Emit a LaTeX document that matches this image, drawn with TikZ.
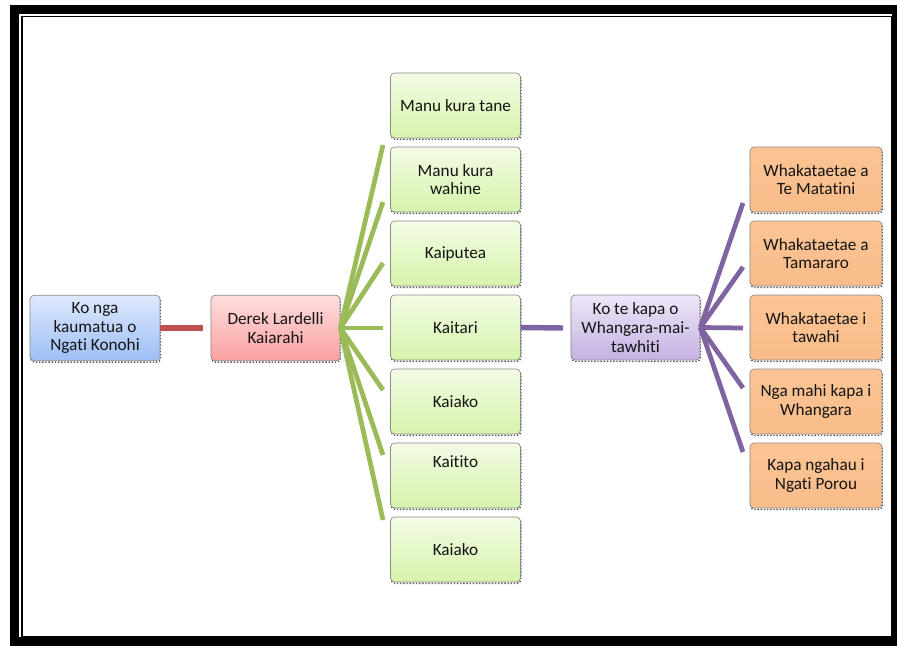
\documentclass[tikz,border=0pt]{standalone}
\usepackage{fontspec}
\setmainfont{Carlito}[Ligatures={NoCommon,NoContextual}]
\definecolor{redline}{RGB}{192,80,77}
\definecolor{greenline}{RGB}{155,187,89}
\definecolor{purpline}{RGB}{128,100,162}
\definecolor{txt}{RGB}{20,20,20}
\begin{document}
\begin{tikzpicture}[x=0.02cm,y=-0.02cm,
  box/.style={rounded corners=2.3pt, draw=black!45, line width=0.4pt,
    align=center, text=txt, inner sep=1pt,
    font=\fontsize{9.8}{10.6}\selectfont,
    preaction={draw=black!65, densely dotted, line width=0.8pt,
      transform canvas={shift={(0.3pt,-0.8pt)}}}},
  bluebox/.style={box, top color={rgb,255:red,222;green,233;blue,253}, bottom color={rgb,255:red,158;green,190;blue,245},
    minimum width=2.6cm, minimum height=1.31cm},
  pinkbox/.style={box, top color={rgb,255:red,255;green,222;blue,222}, bottom color={rgb,255:red,250;green,160;blue,160},
    minimum width=2.58cm, minimum height=1.31cm},
  greenbox/.style={box, top color={rgb,255:red,243;green,251;blue,230}, bottom color={rgb,255:red,214;green,244;blue,170},
    minimum width=2.6cm, minimum height=1.3cm},
  purpbox/.style={box, top color={rgb,255:red,238;green,230;blue,248}, bottom color={rgb,255:red,196;green,178;blue,226},
    minimum width=2.58cm, minimum height=1.3cm},
  orangebox/.style={box, top color={rgb,255:red,251;green,196;blue,148}, bottom color={rgb,255:red,249;green,188;blue,138},
    minimum width=2.64cm, minimum height=1.3cm},
  conn/.style={line width=2.7pt},
  hconn/.style={line width=3.1pt},
]
\useasboundingbox (0,0) rectangle (897,646);
% frame
\fill[black] (10,5) rectangle (897,646);
\fill[white] (19,14) rectangle (892,637);
\draw[line width=1.1pt] (21.7,16.5) rectangle (892,637);

% nodes
\node[bluebox] (kau) at (95,328) {Ko nga\\kaumatua o\\Ngati Konohi};
\node[pinkbox] (derek) at (275.5,328) {Derek Lardelli\\Kaiarahi};

\node[greenbox] (g1) at (455.5,105.5) {Manu kura tane};
\node[greenbox] (g2) at (455.5,179.5) {Manu kura\\wahine};
\node[greenbox] (g3) at (455.5,253.5) {Kaiputea};
\node[greenbox] (g4) at (455.5,327.5) {Kaitari};
\node[greenbox] (g5) at (455.5,401.5) {Kaiako};
\node[greenbox] (g6) at (455.5,475.5) {Kaitito\\[5pt]\mbox{}};
\node[greenbox] (g7) at (455.5,549.5) {Kaiako};

\node[purpbox] (kapa) at (635.5,327.5) {Ko te kapa o\\Whangara-mai-\\tawhiti};

\node[orangebox] (o1) at (816,179.5) {Whakataetae a\\Te Matatini};
\node[orangebox] (o2) at (816,253.5) {Whakataetae a\\Tamararo};
\node[orangebox] (o3) at (816,327.5) {Whakataetae i\\tawahi};
\node[orangebox] (o4) at (816,401.5) {Nga mahi kapa i\\Whangara};
\node[orangebox] (o5) at (816,475.5) {Kapa ngahau i\\Ngati Porou};

% connector end points
\coordinate (rEnd) at (203,328);
\coordinate (pEnd) at (563,328);
\coordinate (gf1) at (383,145);
\coordinate (gf2) at (383,202);
\coordinate (gf3) at (383,263);
\coordinate (gf4) at (383,328);
\coordinate (gf5) at (383,390);
\coordinate (gf6) at (383,455);
\coordinate (gf7) at (383,520);
\coordinate (pf1) at (743,203);
\coordinate (pf2) at (743,267);
\coordinate (pf3) at (743,328);
\coordinate (pf4) at (743,388);
\coordinate (pf5) at (743,452);

% connectors
\draw[hconn, redline] (kau.east) -- (rEnd);
\foreach \i in {1,...,7} {\draw[conn, greenline] (derek.east) -- (gf\i);}
\draw[hconn, purpline] (g4.east) -- (pEnd);
\foreach \i in {1,...,5} {\draw[conn, purpline] (kapa.east) -- (pf\i);}
\end{tikzpicture}
\end{document}
